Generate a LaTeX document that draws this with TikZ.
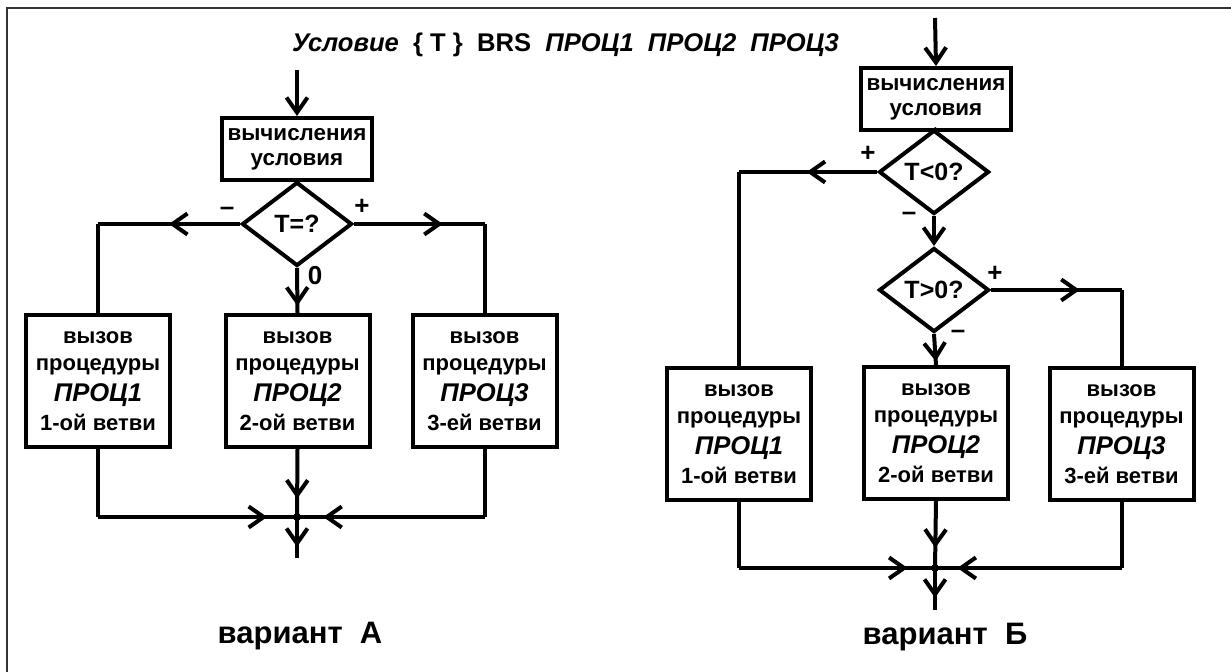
\documentclass[tikz,border=0pt]{standalone}
\usepackage{fontspec}
\setmainfont{Liberation Sans}
\usetikzlibrary{arrows.meta, shapes.geometric, decorations.markings, positioning}

\tikzset{
  flow/.style={line width=2pt},
  tipat/.style={postaction={decorate, decoration={markings,
      mark=at position #1 with {\arrow{>}}}}},
  calcbox/.style={draw, line width=2pt, minimum width=75pt, minimum height=31pt,
    inner sep=0pt, align=center, font=\bfseries\fontsize{11.2}{12.5}\selectfont},
  callbox/.style={draw, line width=2pt, minimum width=72pt, minimum height=66pt,
    inner sep=0pt, align=center, font=\bfseries\fontsize{11}{12.5}\selectfont},
  test/.style={diamond, draw, line width=2pt, minimum width=55pt, minimum height=42pt,
    inner sep=0pt, font=\bfseries\fontsize{12.5}{14}\selectfont},
  sign/.style={font=\bfseries\fontsize{13}{14}\selectfont},
  caption/.style={font=\bfseries\fontsize{15.5}{18}\selectfont}
}
\newcommand{\procname}[1]{{\fontsize{12.8}{15}\selectfont\itshape #1}}

\begin{document}
\begin{tikzpicture}[x=0.5pt, y=-0.5pt, >={Straight Barb[length=7.5pt, width=10.5pt]}]
  \useasboundingbox (0,0) rectangle (1231,672);
  % frame
  \draw[line width=0.8pt, black!80] (1231,8) -- (7,8) -- (7,672);

  \node[anchor=west, font=\bfseries\fontsize{12.8}{15}\selectfont] (title) at (285,45)
    {\textit{Условие}\ \ \{ T \}\ \ BRS\ \ \textit{ПРОЦ1}\ \ \textit{ПРОЦ2}\ \ \textit{ПРОЦ3}};

  % variant A
  \coordinate (inA) at (297,70);
  \node[calcbox] (calcA) at (297,149) {вычисления\\условия};
  \node[test] (decA) at (297,224) {T=?};
  \node[callbox] (callA1) at (98,381.5) {вызов\\[1pt]процедуры\\[3pt]\procname{ПРОЦ1}\\[2pt]1-ой ветви};
  \node[callbox] (callA2) at (297.5,381) {вызов\\[1pt]процедуры\\[3pt]\procname{ПРОЦ2}\\[2pt]2-ой ветви};
  \node[callbox] (callA3) at (484.5,381.5) {вызов\\[1pt]процедуры\\[3pt]\procname{ПРОЦ3}\\[2pt]3-ей ветви};
  \coordinate (jA) at (297,517);
  \coordinate (outA) at (297,558);
  \coordinate (upA1) at (callA1.north |- decA.west);
  \coordinate (upA3) at (callA3.north |- decA.east);
  \coordinate (loA1) at (callA1.south |- jA);
  \coordinate (loA3) at (callA3.south |- jA);

  \draw[flow, ->] (inA) -- (calcA.north);
  \draw[flow] (calcA.south) -- (decA.north);
  \draw[flow, tipat=0.5] (decA.west) -- (upA1);
  \draw[flow] (upA1) -- (callA1.north);
  \draw[flow, tipat=0.68] (decA.east) -- (upA3);
  \draw[flow] (upA3) -- (callA3.north);
  \draw[flow, tipat=0.84] (decA.south) -- (callA2.north);
  \draw[flow] (callA1.south) -- (loA1);
  \draw[flow, tipat=0.85] (loA1) -- (jA);
  \draw[flow] (callA3.south) -- (loA3);
  \draw[flow, tipat=0.86] (loA3) -- (jA);
  \draw[flow, tipat=0.73] (callA2.south) -- (jA);
  \draw[flow, tipat=0.73] (jA) -- (outA);
  \fill (jA) circle (2pt);

  \node[sign] (mA) at (227,211) {--};
  \node[sign] (pA) at (362,207) {+};
  \node[sign] (zA) at (315,276) {0};
  \node[caption] (capA) at (300,636) {вариант\ \ А};

  % variant B
  \coordinate (inB) at (935,18);
  \node[calcbox] (calcB) at (936,99) {вычисления\\условия};
  \node[test] (decB1) at (934,172) {T<0?};
  \node[test] (decB2) at (934,290) {T>0?};
  \node[callbox] (callB1) at (739,434.5) {вызов\\[1pt]процедуры\\[3pt]\procname{ПРОЦ1}\\[2pt]1-ой ветви};
  \node[callbox] (callB2) at (936,433) {вызов\\[1pt]процедуры\\[3pt]\procname{ПРОЦ2}\\[2pt]2-ой ветви};
  \node[callbox] (callB3) at (1121.5,434.5) {вызов\\[1pt]процедуры\\[3pt]\procname{ПРОЦ3}\\[2pt]3-ей ветви};
  \coordinate (jB) at (935,568);
  \coordinate (outB) at (935,610);
  \coordinate (upB1) at (callB1.north |- decB1.west);
  \coordinate (upB3) at (callB3.north |- decB2.east);
  \coordinate (loB1) at (callB1.south |- jB);
  \coordinate (loB3) at (callB3.south |- jB);

  \draw[flow, ->] (inB) -- (calcB.north);
  \draw[flow] (calcB.south) -- (decB1.north);
  \draw[flow, tipat=0.51] (decB1.west) -- (upB1);
  \draw[flow] (upB1) -- (callB1.north);
  \draw[flow, ->] (decB1.south) -- (decB2.north);
  \draw[flow, tipat=0.68] (decB2.east) -- (upB3);
  \draw[flow] (upB3) -- (callB3.north);
  \draw[flow, tipat=0.88] (decB2.south) -- (callB2.north);
  \draw[flow] (callB1.south) -- (loB1);
  \draw[flow, tipat=0.86] (loB1) -- (jB);
  \draw[flow] (callB3.south) -- (loB3);
  \draw[flow, tipat=0.88] (loB3) -- (jB);
  \draw[flow, tipat=0.7] (callB2.south) -- (jB);
  \draw[flow, tipat=0.71] (jB) -- (outB);
  \fill (jB) circle (2pt);

  \node[sign] (pB1) at (868,154) {+};
  \node[sign] (mB1) at (909,216) {--};
  \node[sign] (pB2) at (995,274) {+};
  \node[sign] (mB2) at (958,334) {--};
  \node[caption] (capB) at (945,637) {вариант\ \ Б};
\end{tikzpicture}
\end{document}
